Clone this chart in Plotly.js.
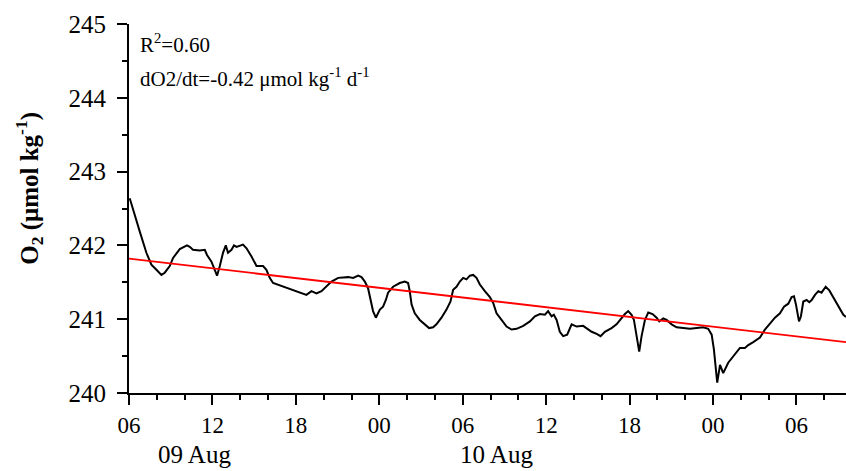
<!DOCTYPE html>
<html>
<head>
<meta charset="utf-8">
<script src="https://cdn.plot.ly/plotly-3.0.1.min.js"></script>
<style>html,body{margin:0;padding:0;background:#fff;}#chart{width:846px;height:471px;}</style>
</head>
<body>
<div id="chart"></div>
<script>
// hours since 09 Aug 06:00
const hours = [0.05,0.29,0.77,1.25,1.61,1.97,2.33,2.57,2.93,3.17,3.65,4.17,4.37,4.60,5.09,5.45,5.61,5.93,6.17,6.33,6.53,6.76,6.96,7.12,7.37,7.55,7.73,7.96,8.20,8.45,8.81,9.17,9.64,9.88,10.12,10.36,10.96,11.44,12.04,12.40,12.76,13.12,13.48,13.84,14.20,14.56,15.04,15.76,16.12,16.48,16.72,16.96,17.19,17.37,17.55,17.75,18.04,18.27,18.47,18.63,18.99,19.47,19.83,20.07,20.19,20.32,20.55,20.91,21.27,21.58,21.87,22.11,22.47,22.83,23.12,23.31,23.55,23.79,24.03,24.27,24.51,24.75,24.99,25.23,25.59,25.95,26.19,26.43,26.79,27.15,27.51,27.87,28.35,28.83,29.19,29.55,29.91,30.14,30.39,30.55,30.75,30.98,31.22,31.51,31.83,32.19,32.66,32.90,33.27,33.63,33.91,34.22,34.70,35.06,35.30,35.66,35.90,36.14,36.31,36.50,36.69,36.86,37.10,37.34,37.65,37.94,38.13,38.42,38.66,39.02,39.38,39.86,40.34,40.82,41.29,41.65,41.90,42.06,42.19,42.30,42.50,42.73,43.09,43.45,43.93,44.29,44.53,44.89,45.37,45.73,46.09,46.45,46.81,47.10,47.41,47.65,47.82,47.96,48.18,48.32,48.49,48.73,48.92,49.09,49.33,49.57,49.80,50.10,50.36,50.65,51.01,51.37,51.56];
const o2 = [242.64,242.48,242.19,241.90,241.74,241.67,241.60,241.63,241.72,241.83,241.95,242.00,241.98,241.94,241.93,241.94,241.87,241.78,241.67,241.59,241.72,241.90,242.00,241.90,241.94,242.00,241.98,242.00,242.01,241.96,241.85,241.72,241.72,241.67,241.56,241.49,241.45,241.42,241.38,241.36,241.33,241.38,241.35,241.38,241.44,241.51,241.56,241.57,241.56,241.59,241.57,241.51,241.42,241.26,241.11,241.02,241.13,241.17,241.26,241.36,241.44,241.49,241.51,241.49,241.38,241.20,241.08,240.99,240.93,240.88,240.89,240.93,241.02,241.13,241.24,241.40,241.44,241.51,241.56,241.54,241.59,241.60,241.56,241.47,241.38,241.30,241.22,241.08,240.99,240.90,240.86,240.87,240.91,240.97,241.04,241.07,241.06,241.11,241.04,241.06,240.99,240.83,240.77,240.79,240.93,240.90,240.91,240.88,240.83,240.80,240.77,240.83,240.88,240.93,240.99,241.07,241.11,241.06,240.99,240.77,240.56,240.77,240.99,241.09,241.07,241.02,240.97,241.01,240.99,240.93,240.89,240.88,240.87,240.88,240.89,240.87,240.79,240.59,240.36,240.14,240.38,240.27,240.41,240.50,240.61,240.61,240.65,240.69,240.75,240.86,240.94,241.02,241.08,241.17,241.21,241.30,241.31,241.20,240.97,241.04,241.24,241.26,241.23,241.26,241.33,241.38,241.36,241.44,241.39,241.30,241.17,241.06,241.03];
const fitHours = [0, 51.56];
const fitO2 = [241.82, 240.69];
const xTickLabelsFormat = '%H';
const dayLabels = ['09 Aug', '10 Aug'];
const statText = ['R<sup>2</sup>=0.60', 'dO2/dt=-0.42 \u03bcmol kg<sup>-1</sup> d<sup>-1</sup>'];
const yTitle = '<b>O<sub>2</sub> (\u03bcmol kg<sup>-1</sup>)</b>';

const base = Date.UTC(2014, 7, 9, 6, 0, 0);
const H = 3600000;
const toT = h => base + h * H;

const font = 'Liberation Serif, Times New Roman, serif';

const traces = [
  {x: hours.map(toT), y: o2, type: 'scatter', mode: 'lines', line: {color: '#000', width: 2}, hoverinfo: 'skip'},
  {x: fitHours.map(toT), y: fitO2, type: 'scatter', mode: 'lines', line: {color: '#ff0000', width: 1.8}, hoverinfo: 'skip'}
];

const layout = {
  width: 846, height: 471,
  margin: {l: 129, r: 0, t: 24, b: 78, pad: 0},
  paper_bgcolor: '#fff', plot_bgcolor: '#fff',
  showlegend: false,
  font: {family: font, color: '#000'},
  xaxis: {
    type: 'date', range: [toT(0), toT(51.56)],
    tick0: Date.UTC(2014, 7, 9, 0, 0, 0), dtick: 6 * H, tickformat: xTickLabelsFormat,
    ticks: 'outside', ticklen: 10, tickwidth: 2, tickcolor: '#000',
    showline: true, linewidth: 2, linecolor: '#000', showgrid: false, zeroline: false,
    tickfont: {family: font, size: 23, color: '#000'},
    minor: {dtick: 2 * H, ticks: 'outside', ticklen: 5, tickwidth: 2, tickcolor: '#000', showgrid: false}
  },
  yaxis: {
    range: [240, 245], dtick: 1, tick0: 240,
    ticks: 'outside', ticklen: 10, tickwidth: 2, tickcolor: '#000',
    showline: true, linewidth: 2, linecolor: '#000', showgrid: false, zeroline: false,
    tickfont: {family: font, size: 25, color: '#000'},
    ticklabelstandoff: 6,
    minor: {dtick: 0.5, ticks: 'outside', ticklen: 5, tickwidth: 2, tickcolor: '#000', showgrid: false}
  },
  annotations: [
    {xref: 'paper', yref: 'paper', x: -0.1395, y: 0.556, text: yTitle, textangle: -90, showarrow: false,
     xanchor: 'center', yanchor: 'middle', font: {family: font, size: 25, color: '#000'}},
    {xref: 'paper', yref: 'paper', x: 0.0126, y: 0.948, text: statText[0], showarrow: false,
     xanchor: 'left', yanchor: 'middle', font: {family: font, size: 21, color: '#000'}},
    {xref: 'paper', yref: 'paper', x: 0.0126, y: 0.854, text: statText[1], showarrow: false,
     xanchor: 'left', yanchor: 'middle', font: {family: font, size: 21, color: '#000'}},
    {xref: 'x', yref: 'paper', x: toT(4.73), y: -0.167, text: dayLabels[0], showarrow: false,
     xanchor: 'center', yanchor: 'middle', font: {family: font, size: 25, color: '#000'}},
    {xref: 'x', yref: 'paper', x: toT(26.45), y: -0.167, text: dayLabels[1], showarrow: false,
     xanchor: 'center', yanchor: 'middle', font: {family: font, size: 25, color: '#000'}}
  ]
};

Plotly.newPlot('chart', traces, layout, {displayModeBar: false, staticPlot: true});
</script>
</body>
</html>
